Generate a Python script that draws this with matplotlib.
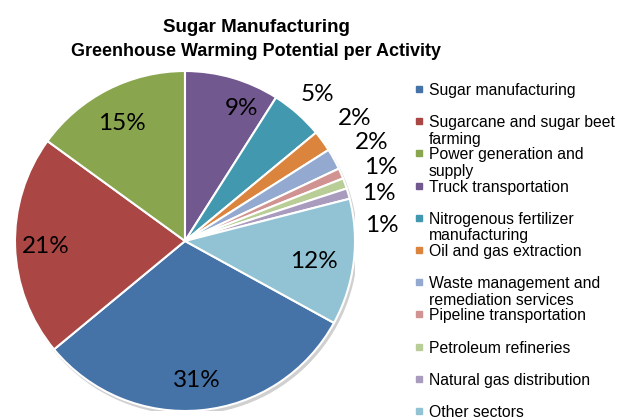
import matplotlib.pyplot as plt
from matplotlib.patches import Circle, Rectangle

# Data
activities = [
    "Sugar manufacturing",
    "Sugarcane and sugar beet\nfarming",
    "Power generation and\nsupply",
    "Truck transportation",
    "Nitrogenous fertilizer\nmanufacturing",
    "Oil and gas extraction",
    "Waste management and\nremediation services",
    "Pipeline transportation",
    "Petroleum refineries",
    "Natural gas distribution",
    "Other sectors",
]
shares = [31, 21, 15, 9, 5, 2, 2, 1, 1, 1, 12]

# Excel 2007 style palette
colors = ["#4572A7", "#AA4643", "#89A54E", "#71588F", "#4198AF", "#DB843D",
          "#93A9CF", "#D19392", "#B9CD96", "#A99BBD", "#92C3D4"]

# where Excel put the percentage labels (data units, pie radius = 1)
label_pos = [(0.07, -0.82), (-0.82, -0.035), (-0.37, 0.69), (0.335, 0.78),
             (0.78, 0.86), (1.0, 0.72), (1.1, 0.58), (1.15, 0.43),
             (1.14, 0.28), (1.16, 0.09), (0.76, -0.12)]

W, H = 619, 417
fig = plt.figure(figsize=(W / 100, H / 100), dpi=100)

# pie centre / radius in pixels
cx, cy, r = 185, 241, 170
ax = fig.add_axes([(cx - r) / W, (H - cy - r) / H, 2 * r / W, 2 * r / H])

# soft shadow like Excel
ax.add_patch(Circle((0.012, -0.018), 1.0, color="#d0d0d0", zorder=0))

start = 90 + sum(shares[:3]) / sum(shares) * 360
wedges, texts, autotexts = ax.pie(
    shares, colors=colors, startangle=start, counterclock=False,
    autopct=lambda p: f"{p:.0f}%", pctdistance=0.8,
    wedgeprops=dict(edgecolor="white", linewidth=1.5),
    textprops=dict(family=["Lato", "DejaVu Sans"], fontsize=17.5, color="black"),
)
for t, pos in zip(autotexts, label_pos):
    t.set_position(pos)
    t.set_ha("center")
    t.set_va("center")

ax.set_xlim(-1, 1)
ax.set_ylim(-1, 1)
ax.set_aspect("equal")
ax.axis("off")

# title
fig.text(256 / W, 1 - 27 / H, "Sugar Manufacturing", ha="center", va="center",
         family="Liberation Sans", fontweight="bold", fontsize=13.5)
fig.text(256 / W, 1 - 52 / H, "Greenhouse Warming Potential per Activity",
         ha="center", va="center", family="Liberation Sans",
         fontweight="bold", fontsize=13)

# legend drawn by hand to get Excel's tight, overlapping spacing
for i, (name, col) in enumerate(zip(activities, colors)):
    y = 89 + i * 32.2
    fig.patches.append(Rectangle((416 / W, 1 - (y + 3) / H), 6 / W, 6 / H,
                                 transform=fig.transFigure, color=col))
    for k, line in enumerate(name.split("\n")):
        fig.text(429 / W, 1 - (y + 6 + k * 16.3) / H, line, ha="left",
                 va="baseline", family="Liberation Sans", fontsize=11.3)

fig.savefig("out.png", dpi=100)
